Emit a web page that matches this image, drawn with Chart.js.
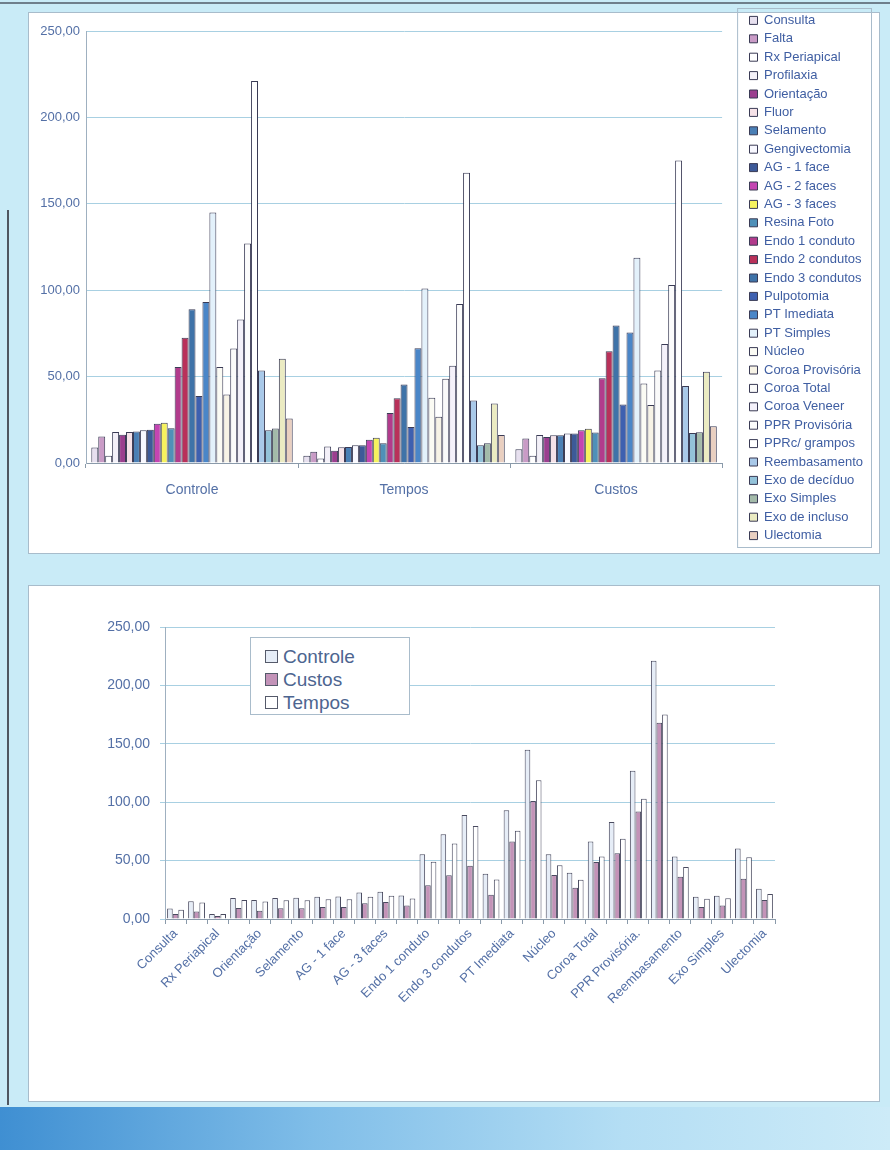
<!DOCTYPE html>
<html>
<head>
<meta charset="utf-8">
<script src="https://cdn.jsdelivr.net/npm/chart.js@4.4.1/dist/chart.umd.min.js"></script>
<style>
  body { margin: 0; width: 890px; height: 1150px; background: #c9ebf7; position: relative; overflow: hidden; font-family: 'Liberation Sans', Arial, sans-serif; }
  .topline { position: absolute; left: 0; top: 2px; width: 890px; height: 2px; background: #6f7f8c; }
  .binding { position: absolute; left: 7px; top: 210px; width: 2px; height: 895px; background: #4f5660; }
  .panel { position: absolute; left: 28px; width: 850px; background: #fff; border: 1px solid #a8bccb; }
  #p1 { top: 12px; height: 540px; }
  #p2 { top: 585px; height: 515px; }
  .stripe { position: absolute; left: 0; top: 1107px; width: 890px; height: 43px;
    background: linear-gradient(to right, #3f8fd2, #7fbde8 35%, #b4def4 70%, #cdebf8); }
  canvas { position: absolute; }
  #legend2 { position: absolute; left: 250px; top: 637px; width: 160px; height: 78px; background: #fff; border: 1px solid #a9bccb; padding: 7px 0 0 14px; box-sizing: border-box; }
  #legend2 div { font-size: 19px; line-height: 23px; color: #4d6590; white-space: nowrap; }
  #legend2 span { display: inline-block; width: 11px; height: 11px; border: 1px solid #555a6a; margin-right: 5px; vertical-align: 0; }
</style>
</head>
<body>
<div class="topline"></div>
<div class="binding"></div>
<div class="panel" id="p1"></div>
<div class="panel" id="p2"></div>
<div class="stripe"></div>
<canvas id="chart1" width="846" height="540" style="left:30px;top:8px"></canvas>
<canvas id="chart2" width="846" height="510" style="left:30px;top:588px"></canvas>
<div id="legend2"></div>
<script>
// procedimentos (series do grafico de cima, categorias do grafico de baixo)
const procedimentos = ['Consulta', 'Falta', 'Rx Periapical', 'Profilaxia', 'Orientação', 'Fluor', 'Selamento',
  'Gengivectomia', 'AG - 1 face', 'AG - 2 faces', 'AG - 3 faces', 'Resina Foto', 'Endo 1 conduto',
  'Endo 2 condutos', 'Endo 3 condutos', 'Pulpotomia', 'PT Imediata', 'PT Simples', 'Núcleo',
  'Coroa Provisória', 'Coroa Total', 'Coroa Veneer', 'PPR Provisória', 'PPRc/ grampos', 'Reembasamento',
  'Exo de decíduo', 'Exo Simples', 'Exo de incluso', 'Ulectomia'];
const grupos = ['Controle', 'Tempos', 'Custos'];

const controle = [8.9, 15.3, 4.2, 18.0, 16.3, 18.0, 18.2, 19.0, 19.2, 22.7, 23.3, 20.1, 55.5,
  72.5, 89.0, 38.8, 93.2, 145.0, 55.5, 39.6, 66.3, 83.0, 127.0, 221.0, 53.6, 19.0, 20.0, 60.4, 25.8];
const tempos = [4.2, 6.5, 2.6, 9.5, 7.1, 9.1, 9.3, 10.3, 10.3, 13.4, 14.6, 11.5, 28.9,
  37.5, 45.5, 20.8, 66.4, 101.0, 37.7, 26.7, 48.8, 56.3, 92.0, 168.0, 36.2, 10.3, 11.5, 34.4, 16.2];
const custos = [7.9, 14.2, 4.2, 16.2, 15.0, 16.0, 16.0, 17.0, 17.0, 19.0, 19.8, 17.6, 49.0,
  64.6, 79.6, 33.8, 75.5, 118.8, 46.0, 33.6, 53.6, 68.8, 103.0, 175.0, 44.5, 17.4, 17.8, 52.8, 21.3];

const yTicks = [0, 50, 100, 150, 200, 250];

const coresProc = ['#e7e0ef', '#c99bc6', '#ffffff', '#f3f0f8', '#9b3f8f', '#f6e2e8', '#4a7fb5',
  '#f8f8ff', '#3d5a98', '#c445b2', '#f6f25e', '#4f90b8', '#b23b8c', '#b9315a', '#3f73a8',
  '#3e60b0', '#4a86c8', '#e3f1fb', '#fbfbf4', '#f7f3e6', '#fafafa', '#f4f1fa', '#fcfcfc',
  '#ffffff', '#a9c9e9', '#93c2d9', '#a3baa9', '#ebebc2', '#e9cfc0'];

const textColor = '#5470a6';
const gridColor = '#a8d0e2';
const fmt = v => v.toFixed(2).replace('.', ',');

// grafico de cima: grupos no eixo x, um dataset por procedimento
const valoresPorGrupo = [controle, tempos, custos];
const datasets1 = procedimentos.map((nome, i) => ({
  label: nome,
  data: valoresPorGrupo.map(arr => arr[i]),
  backgroundColor: coresProc[i],
  borderColor: '#3a3b55',
  borderWidth: 1
}));

// moldura em volta da legenda
const legendBox = {
  id: 'legendBox',
  afterDraw(chart) {
    const l = chart.legend;
    const ctx = chart.ctx;
    ctx.save();
    ctx.strokeStyle = '#a9bccb';
    ctx.lineWidth = 1;
    ctx.strokeRect(l.left - 6.5, l.top + 0.5, l.width + 5, l.height - 1);
    ctx.restore();
  }
};

new Chart(document.getElementById('chart1'), {
  type: 'bar',
  data: { labels: grupos, datasets: datasets1 },
  options: {
    responsive: false,
    animation: false,
    layout: { padding: { top: 0, right: 3, bottom: 0, left: 0 } },
    categoryPercentage: 0.95,
    barPercentage: 1,
    scales: {
      x: {
        grid: { display: true, drawOnChartArea: false, tickLength: 5, color: '#8a9aaa' },
        border: { color: '#8a9aaa' },
        ticks: { color: textColor, font: { family: 'Liberation Sans', size: 14 }, padding: 14 },
        afterFit: s => { s.height = 85; }
      },
      y: {
        min: 0, max: 250,
        afterBuildTicks: s => { s.ticks = yTicks.map(v => ({ value: v })); },
        grid: { color: gridColor, drawTicks: false },
        border: { color: '#9fb0c0' },
        ticks: { color: textColor, font: { family: 'Liberation Sans', size: 13 }, padding: 6, callback: fmt },
        afterFit: s => { s.width = 56; }
      },
      padTop: {
        axis: 'x', position: 'top', display: true,
        grid: { display: false }, border: { display: false }, ticks: { display: false },
        afterFit: s => { s.height = 23; }
      },
      padRight: {
        axis: 'y', position: 'right', display: true,
        grid: { display: false }, border: { display: false }, ticks: { display: false },
        afterFit: s => { s.width = 22; }
      }
    },
    plugins: {
      legend: {
        position: 'right',
        labels: { boxWidth: 8, boxHeight: 8, padding: 5.4, color: '#3f5ea2', font: { family: 'Liberation Sans', size: 13 } }
      },
      tooltip: { enabled: false }
    }
  },
  plugins: [legendBox]
});

// grafico de baixo: procedimentos no eixo x (legenda como no original)
const categoriasB = procedimentos.map(p => p === 'PPR Provisória' ? 'PPR Provisória.' : p);
const series2 = [
  { label: 'Controle', data: controle, cor: '#e6edf7' },
  { label: 'Custos', data: tempos, cor: '#c393b8' },
  { label: 'Tempos', data: custos, cor: '#ffffff' }
];

new Chart(document.getElementById('chart2'), {
  type: 'bar',
  data: {
    labels: categoriasB,
    datasets: series2.map(s => ({
      label: s.label, data: s.data, backgroundColor: s.cor, borderColor: '#4a4b60', borderWidth: 1
    }))
  },
  options: {
    responsive: false,
    animation: false,
    layout: { padding: { top: 39, right: 101, bottom: 0, left: 0 } },
    categoryPercentage: 0.8,
    barPercentage: 1,
    scales: {
      x: {
        grid: { display: true, drawOnChartArea: false, tickLength: 5, color: '#8a9aaa' },
        border: { color: '#8a9aaa' },
        ticks: {
          autoSkip: false, minRotation: 45, maxRotation: 45, color: textColor,
          font: { family: 'Liberation Sans', size: 13 }, padding: 2,
          callback: (v, i) => (i % 2 === 0 ? categoriasB[i] : '')
        },
        afterFit: s => { s.height = 179; }
      },
      y: {
        min: 0, max: 250,
        afterBuildTicks: s => { s.ticks = yTicks.map(v => ({ value: v })); },
        grid: { color: gridColor, tickLength: 5 },
        border: { color: '#9fb0c0' },
        ticks: { color: textColor, font: { family: 'Liberation Sans', size: 14 }, padding: 10, callback: fmt },
        afterFit: s => { s.width = 135; }
      }
    },
    plugins: { legend: { display: false }, tooltip: { enabled: false } }
  }
});

document.getElementById('legend2').innerHTML = series2
  .map(s => `<div><span style="background:${s.cor}"></span>${s.label}</div>`).join('');
</script>
</body>
</html>
